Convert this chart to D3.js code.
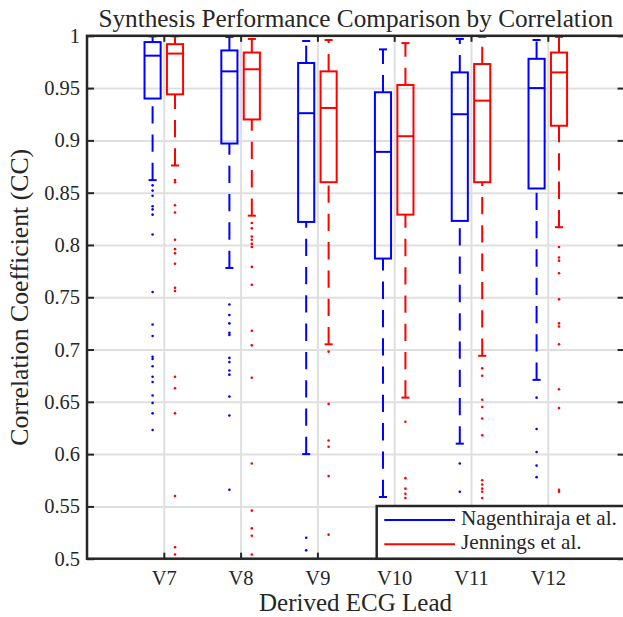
<!DOCTYPE html>
<html>
<head>
<meta charset="utf-8">
<script src="https://cdn.jsdelivr.net/npm/d3@7/dist/d3.min.js"></script>
<style>
  body { margin: 0; background: #fff; }
  svg { display: block; }
</style>
</head>
<body>
<svg id="chart" width="623" height="617"></svg>
<script>
// ---- data ----
var categories = ['V7', 'V8', 'V9', 'V10', 'V11', 'V12'];
var seriesNames = ['Nagenthiraja et al.', 'Jennings et al.'];
var seriesColors = ['#0000ff', '#ff0000'];
var yTicks = [0.5, 0.55, 0.6, 0.65, 0.7, 0.75, 0.8, 0.85, 0.9, 0.95, 1];

// Nagenthiraja et al.
var nagLow    = [0.862, 0.778, 0.600, 0.559, 0.610, 0.671];
var nagQ1     = [0.940, 0.897, 0.822, 0.787, 0.823, 0.854];
var nagMedian = [0.981, 0.966, 0.926, 0.889, 0.925, 0.950];
var nagQ3     = [0.994, 0.986, 0.974, 0.946, 0.965, 0.978];
var nagHigh   = [0.9995, 0.999, 0.995, 0.987, 0.997, 0.996];
var nagOutliers = [
    [0.857, 0.852, 0.847, 0.837, 0.834, 0.829, 0.810, 0.755, 0.724, 0.713, 0.693, 0.691,
     0.684, 0.674, 0.669, 0.656, 0.649, 0.639, 0.623],
    [0.743, 0.733, 0.725, 0.716, 0.714, 0.692, 0.688, 0.680, 0.676, 0.655, 0.637, 0.566],
    [0.520, 0.508],
    [],
    [0.591, 0.564],
    [0.654, 0.624, 0.602, 0.589, 0.578]
];

// Jennings et al.
var jenLow    = [0.876, 0.828, 0.705, 0.654, 0.694, 0.817];
var jenQ1     = [0.944, 0.920, 0.860, 0.829, 0.860, 0.914];
var jenMedian = [0.983, 0.968, 0.931, 0.904, 0.938, 0.965];
var jenQ3     = [0.992, 0.984, 0.966, 0.953, 0.973, 0.984];
var jenHigh   = [0.9995, 0.997, 0.996, 0.993, 0.999, 0.999];
var jenOutliers = [
    [0.862, 0.860, 0.838, 0.831, 0.805, 0.796, 0.792, 0.782, 0.759, 0.756, 0.674, 0.663,
     0.639, 0.560, 0.511, 0.504],
    [0.821, 0.816, 0.808, 0.805, 0.801, 0.798, 0.779, 0.762, 0.718, 0.704, 0.673, 0.591,
     0.546, 0.529, 0.522, 0.504],
    [0.698, 0.648, 0.613, 0.607, 0.579, 0.523],
    [0.631, 0.577, 0.567, 0.562, 0.558],
    [0.682, 0.675, 0.652, 0.645, 0.634, 0.618, 0.575, 0.571, 0.567, 0.564, 0.558],
    [0.798, 0.788, 0.785, 0.773, 0.748, 0.725, 0.722, 0.705, 0.662, 0.644, 0.566, 0.564]
];

var series = [
    { low: nagLow, q1: nagQ1, median: nagMedian, q3: nagQ3, high: nagHigh, outliers: nagOutliers },
    { low: jenLow, q1: jenQ1, median: jenMedian, q3: jenQ3, high: jenHigh, outliers: jenOutliers }
];

// ---- layout ----
var svg = d3.select('#chart'),
    margin = { left: 87, top: 35.8, right: 624.6, bottom: 558.7 },
    axisColor = '#262626',
    gridColor = '#dfdfdf',
    fontFamily = '"Liberation Serif", "Times New Roman", Tinos',
    boxOffset = 0.146,
    boxWidth = 0.21;

var x = d3.scaleLinear().domain([0, 7]).range([margin.left, margin.right]),
    y = d3.scaleLinear().domain([0.5, 1]).range([margin.bottom, margin.top]);

var plotW = margin.right - margin.left,
    plotH = margin.bottom - margin.top,
    catIdx = categories.map(function(d, i) { return i + 1; });


function fitText(sel, width) {
    var size = parseFloat(sel.style('font-size')),
        len = sel.node().getComputedTextLength();
    sel.style('font-size', (size * width / len) + 'px');
}


// grid
svg.append('g')
    .attr('transform', 'translate(' + margin.left + ',0)')
    .call(d3.axisLeft(y).tickValues(yTicks).tickSize(-plotW).tickFormat(''))
    .call(function(g) {
        g.select('.domain').remove();
        g.selectAll('line').attr('stroke', gridColor).attr('stroke-width', 2);
    });

svg.append('g')
    .attr('transform', 'translate(0,' + margin.bottom + ')')
    .call(d3.axisBottom(x).tickValues(catIdx).tickSize(-plotH).tickFormat(''))
    .call(function(g) {
        g.select('.domain').remove();
        g.selectAll('line').attr('stroke', gridColor).attr('stroke-width', 2);
    });


// boxes
var plot = svg.append('g').attr('class', 'boxes');

series.forEach(function(s, si) {
    var color = seriesColors[si],
        dx = si === 0 ? -boxOffset : boxOffset;

    var groups = plot.selectAll('.box-' + si)
        .data(catIdx)
        .enter()
        .append('g')
        .attr('class', 'box-' + si)
        .attr('stroke', color)
        .attr('fill', 'none')
        .attr('stroke-width', 2);

    function cx(d) { return x(d + dx); }
    function half(d, w) { return x(d + dx + w) - x(d + dx); }

    // lower whisker: drawn from the adjacent value up to q1
    groups.append('line')
        .attr('x1', cx).attr('x2', cx)
        .attr('y1', function(d) { return y(s.low[d - 1]); })
        .attr('y2', function(d) { return y(s.q1[d - 1]); })
        .attr('stroke-dasharray', '17.3,11');

    // upper whisker: from q3 up to the adjacent value
    groups.append('line')
        .attr('x1', cx).attr('x2', cx)
        .attr('y1', function(d) { return y(s.q3[d - 1]); })
        .attr('y2', function(d) { return y(s.high[d - 1]); })
        .attr('stroke-dasharray', '17.3,11');

    ['low', 'high'].forEach(function(k) {
        groups.append('line')
            .attr('x1', function(d) { return cx(d) - half(d, boxWidth / 4); })
            .attr('x2', function(d) { return cx(d) + half(d, boxWidth / 4); })
            .attr('y1', function(d) { return y(s[k][d - 1]); })
            .attr('y2', function(d) { return y(s[k][d - 1]); });
    });

    groups.append('rect')
        .attr('x', function(d) { return cx(d) - half(d, boxWidth / 2); })
        .attr('width', function(d) { return 2 * half(d, boxWidth / 2); })
        .attr('y', function(d) { return y(s.q3[d - 1]); })
        .attr('height', function(d) { return y(s.q1[d - 1]) - y(s.q3[d - 1]); });

    groups.append('line')
        .attr('x1', function(d) { return cx(d) - half(d, boxWidth / 2); })
        .attr('x2', function(d) { return cx(d) + half(d, boxWidth / 2); })
        .attr('y1', function(d) { return y(s.median[d - 1]); })
        .attr('y2', function(d) { return y(s.median[d - 1]); });

    groups.selectAll('circle')
        .data(function(d) { return s.outliers[d - 1].map(function(v) { return [d, v]; }); })
        .enter()
        .append('circle')
        .attr('cx', function(p) { return cx(p[0]); })
        .attr('cy', function(p) { return y(p[1]); })
        .attr('r', 1.3)
        .attr('stroke', 'none')
        .attr('fill', color);
});


// axes
function styleAxis(g) {
    g.attr('font-family', fontFamily).attr('font-size', null);
    g.select('.domain').remove();
    g.selectAll('line').attr('stroke', axisColor).attr('stroke-width', 2);
    g.selectAll('text')
        .attr('fill', axisColor)
        .style('font-family', fontFamily)
        .style('font-size', '20.5px');
}

svg.append('g')
    .attr('transform', 'translate(' + margin.left + ',0)')
    .call(d3.axisLeft(y).tickValues(yTicks).tickSize(-7).tickPadding(7)
        .tickFormat(function(d) { return String(+d.toFixed(2)); }))
    .call(styleAxis);

svg.append('g')
    .attr('transform', 'translate(' + margin.right + ',0)')
    .call(d3.axisRight(y).tickValues(yTicks).tickSize(-7).tickFormat(''))
    .call(styleAxis);

svg.append('g')
    .attr('transform', 'translate(0,' + margin.bottom + ')')
    .call(d3.axisBottom(x).tickValues(catIdx).tickSize(-6).tickPadding(12)
        .tickFormat(function(d) { return categories[d - 1]; }))
    .call(styleAxis);

svg.append('g')
    .attr('transform', 'translate(0,' + margin.top + ')')
    .call(d3.axisTop(x).tickValues(catIdx).tickSize(-6).tickFormat(''))
    .call(styleAxis);

svg.append('rect')
    .attr('x', margin.left)
    .attr('y', margin.top)
    .attr('width', plotW)
    .attr('height', plotH)
    .attr('fill', 'none')
    .attr('stroke', axisColor)
    .attr('stroke-width', 2.5);


// labels
function label(text, size) {
    return svg.append('text')
        .attr('fill', axisColor)
        .style('font-family', fontFamily)
        .style('font-size', size + 'px')
        .text(text);
}

var title = label('Synthesis Performance Comparison by Correlation', 20)
    .attr('x', (margin.left + margin.right) / 2)
    .attr('y', 27)
    .attr('text-anchor', 'middle');
fitText(title, 515);

var xLabel = label('Derived ECG Lead', 20)
    .attr('x', 355.5)
    .attr('y', 611)
    .attr('text-anchor', 'middle');
fitText(xLabel, 193);

var yLabel = label('Correlation Coefficient (CC)', 20)
    .attr('transform', 'translate(28,' + ((margin.top + margin.bottom) / 2) + ') rotate(-90)')
    .attr('text-anchor', 'middle');
fitText(yLabel, 297);


// legend
var legend = svg.append('g').attr('class', 'legend');

legend.append('rect')
    .attr('x', 376.7)
    .attr('y', 506)
    .attr('width', 260)
    .attr('height', margin.bottom - 506)
    .attr('fill', '#fff')
    .attr('stroke', axisColor)
    .attr('stroke-width', 2.5);

var items = legend.selectAll('.item')
    .data(seriesNames)
    .enter()
    .append('g')
    .attr('class', 'item')
    .attr('transform', function(d, i) { return 'translate(0,' + (520 + i * 24.3) + ')'; });

items.append('line')
    .attr('x1', 384.3).attr('x2', 455)
    .attr('stroke', function(d, i) { return seriesColors[i]; })
    .attr('stroke-width', 2);

var legendText = items.append('text')
    .attr('x', 461)
    .attr('y', 5)
    .attr('fill', axisColor)
    .style('font-family', fontFamily)
    .style('font-size', '17px')
    .text(function(d) { return d; });
fitText(d3.select(legendText.nodes()[0]), 156);
legendText.style('font-size', d3.select(legendText.nodes()[0]).style('font-size'));
</script>
</body>
</html>
